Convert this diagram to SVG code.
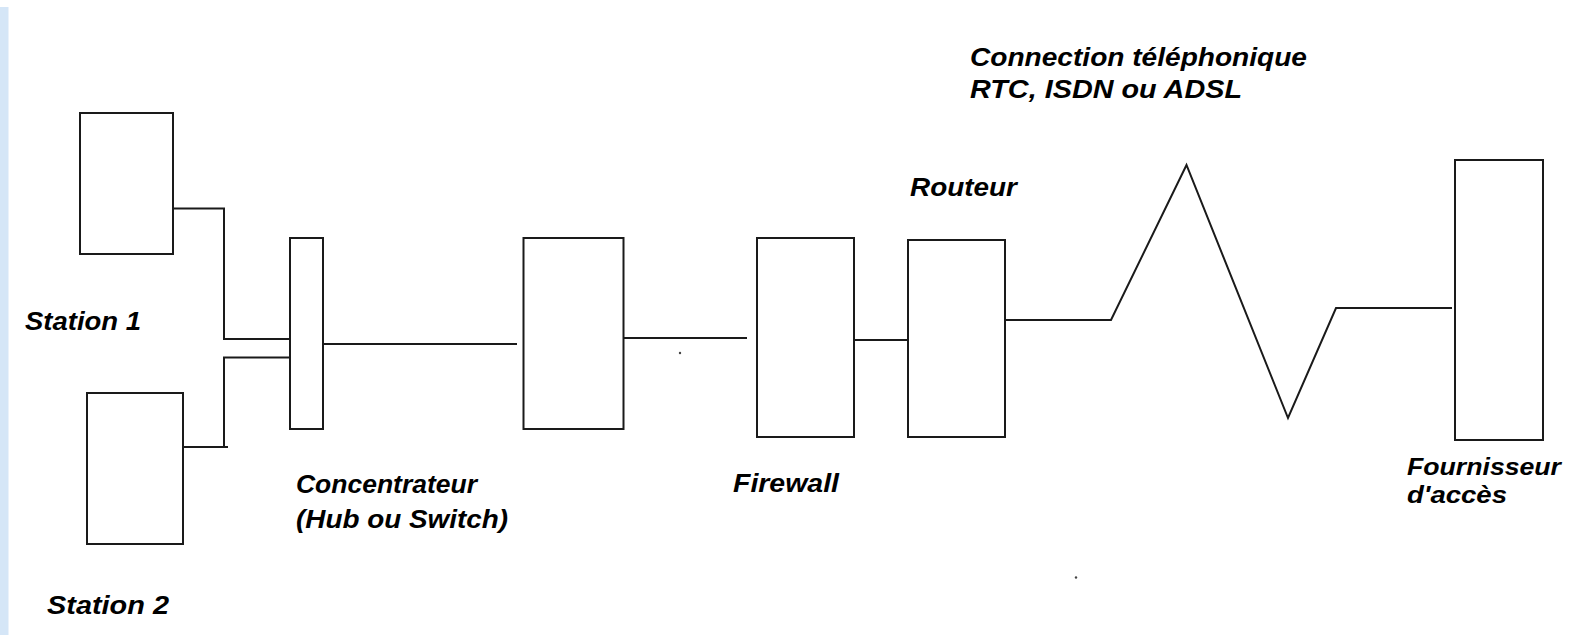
<svg xmlns="http://www.w3.org/2000/svg" width="1574" height="635" viewBox="0 0 1574 635">
<style>
.box{fill:#fff;stroke:#1a1a1a;stroke-width:2}
.wire{fill:none;stroke:#1a1a1a;stroke-width:2}
.lbl{font-family:"Liberation Sans",Arial,sans-serif;font-style:italic;font-weight:bold;font-size:26px;fill:#000}
.sm{font-size:24px}
</style>
<rect x="0" y="0" width="1574" height="635" fill="#fff"/>
<rect x="0" y="7" width="8.5" height="628" fill="#d5e6f7"/>
<g id="connectors">
<polyline class="wire" points="173,208.5 224,208.5 224,339 290,339"/>
<polyline class="wire" points="290,357.5 224,357.5 224,447 183,447"/>
<line class="wire" x1="224" y1="447" x2="228" y2="447"/>
<line class="wire" x1="323" y1="344" x2="517" y2="344"/>
<line class="wire" x1="623" y1="338" x2="747" y2="338"/>
<line class="wire" x1="854" y1="340" x2="908" y2="340"/>
<polyline class="wire" points="1005,320 1111,320 1186.5,165 1288,418 1336,308 1452,308"/>
</g>
<g id="station1"><rect class="box" x="80" y="113" width="93" height="141"/><text class="lbl" x="25" y="330" textLength="116" lengthAdjust="spacingAndGlyphs">Station 1</text></g>
<g id="station2"><rect class="box" x="87" y="393" width="96" height="151"/><text class="lbl" x="47" y="614" textLength="122" lengthAdjust="spacingAndGlyphs">Station 2</text></g>
<g id="hub"><rect class="box" x="290" y="238" width="33" height="191"/><text class="lbl" x="296" y="493" textLength="181" lengthAdjust="spacingAndGlyphs">Concentrateur</text><text class="lbl" x="296" y="528" textLength="212" lengthAdjust="spacingAndGlyphs">(Hub ou Switch)</text></g>
<g id="node3"><rect class="box" x="523.5" y="238" width="100" height="191"/></g>
<g id="firewall"><rect class="box" x="757" y="238" width="97" height="199"/><text class="lbl" x="733" y="492" textLength="106" lengthAdjust="spacingAndGlyphs">Firewall</text></g>
<g id="routeur"><rect class="box" x="908" y="240" width="97" height="197"/><text class="lbl" x="910" y="196" textLength="107" lengthAdjust="spacingAndGlyphs">Routeur</text></g>
<g id="connexion"><text class="lbl" x="970" y="66" textLength="337" lengthAdjust="spacingAndGlyphs">Connection téléphonique</text><text class="lbl" x="970" y="98" textLength="272" lengthAdjust="spacingAndGlyphs">RTC, ISDN ou ADSL</text></g>
<g id="fournisseur"><rect class="box" x="1455" y="160" width="88" height="280"/><text class="lbl sm" x="1407" y="475" textLength="154" lengthAdjust="spacingAndGlyphs">Fournisseur</text><text class="lbl sm" x="1407" y="503" textLength="100" lengthAdjust="spacingAndGlyphs">d'accès</text></g>
<circle cx="680" cy="353" r="1.2" fill="#444"/>
<circle cx="1076" cy="577.5" r="1.2" fill="#444"/>
</svg>
